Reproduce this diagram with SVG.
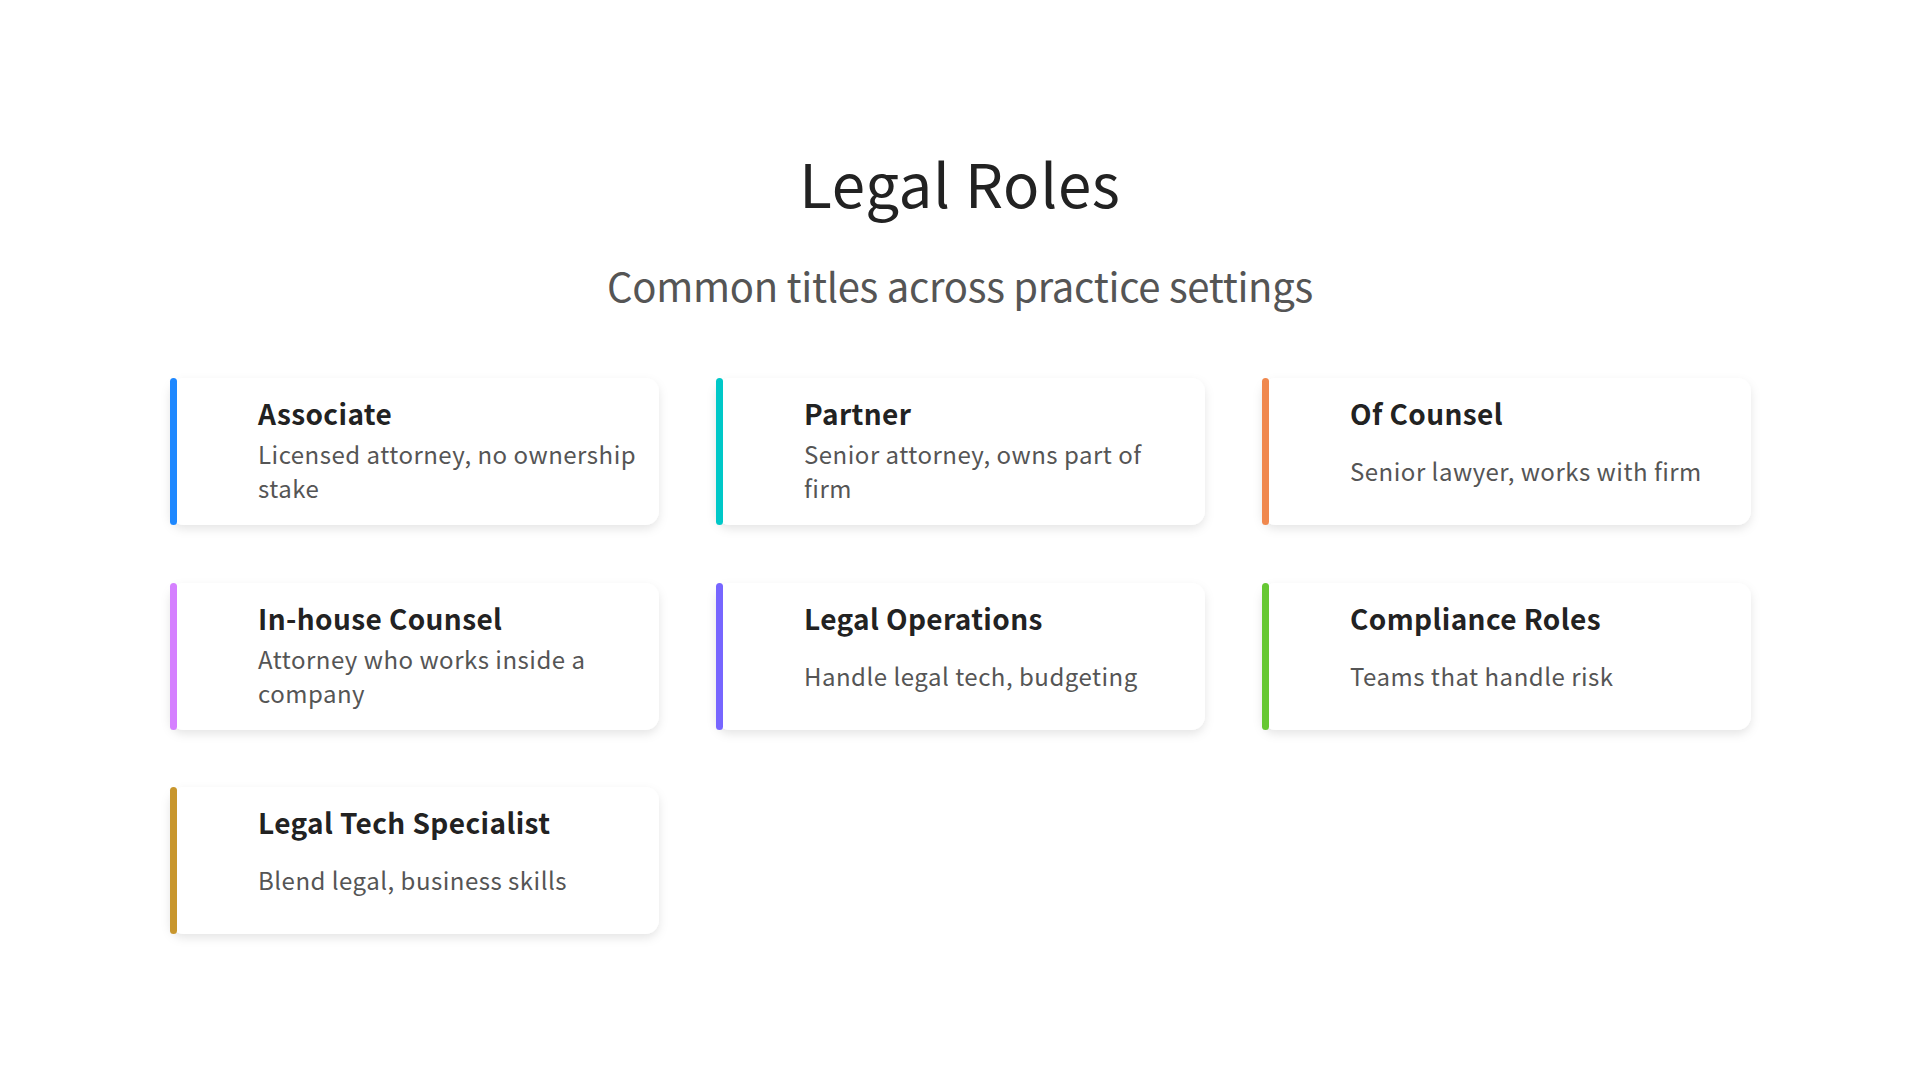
<svg xmlns="http://www.w3.org/2000/svg" width="1920" height="1080" viewBox="0 0 1920 1080">
<defs>
<filter id="sh" x="-10%" y="-20%" width="120%" height="150%">
<feDropShadow dx="0" dy="4" stdDeviation="5" flood-color="#000" flood-opacity="0.10"/>
</filter>
</defs>
<style>
.card{fill:#fff;filter:url(#sh)}
.t{font-family:"Noto Sans CJK SC","Noto Sans",sans-serif;font-weight:700;font-size:28px;fill:#222;letter-spacing:0.4px}
.d{font-family:"Noto Sans CJK SC","Noto Sans",sans-serif;font-size:24px;fill:#555;letter-spacing:0.5px}
.h1{font-family:"Noto Sans CJK SC","Noto Sans",sans-serif;font-size:60px;fill:#222;letter-spacing:0.7px}
.h2{font-family:"Noto Sans CJK SC","Noto Sans",sans-serif;font-size:40px;fill:#555;letter-spacing:-0.3px}
</style>
<rect width="1920" height="1080" fill="#fff"/>
<text class="h1" x="960" y="208" text-anchor="middle">Legal Roles</text>
<text class="h2" x="960" y="302" text-anchor="middle">Common titles across practice settings</text>
<g id="associate">
<rect class="card" x="170" y="378" width="489" height="147" rx="14"/>
<rect x="170" y="378" width="7" height="147" rx="3.5" fill="#1e88ff"/>
<text class="t" x="258" y="425">Associate</text>
<text class="d" x="258" y="464">Licensed attorney, no ownership</text>
<text class="d" x="258" y="498">stake</text>
</g>
<g id="partner">
<rect class="card" x="716" y="378" width="489" height="147" rx="14"/>
<rect x="716" y="378" width="7" height="147" rx="3.5" fill="#00c8c8"/>
<text class="t" x="804" y="425">Partner</text>
<text class="d" x="804" y="464">Senior attorney, owns part of</text>
<text class="d" x="804" y="498">firm</text>
</g>
<g id="of-counsel">
<rect class="card" x="1262" y="378" width="489" height="147" rx="14"/>
<rect x="1262" y="378" width="7" height="147" rx="3.5" fill="#f0884e"/>
<text class="t" x="1350" y="425">Of Counsel</text>
<text class="d" x="1350" y="481">Senior lawyer, works with firm</text>
</g>
<g id="in-house-counsel">
<rect class="card" x="170" y="583" width="489" height="147" rx="14"/>
<rect x="170" y="583" width="7" height="147" rx="3.5" fill="#d580ff"/>
<text class="t" x="258" y="630">In-house Counsel</text>
<text class="d" x="258" y="669">Attorney who works inside a</text>
<text class="d" x="258" y="703">company</text>
</g>
<g id="legal-operations">
<rect class="card" x="716" y="583" width="489" height="147" rx="14"/>
<rect x="716" y="583" width="7" height="147" rx="3.5" fill="#7766ff"/>
<text class="t" x="804" y="630">Legal Operations</text>
<text class="d" x="804" y="686">Handle legal tech, budgeting</text>
</g>
<g id="compliance-roles">
<rect class="card" x="1262" y="583" width="489" height="147" rx="14"/>
<rect x="1262" y="583" width="7" height="147" rx="3.5" fill="#66c833"/>
<text class="t" x="1350" y="630">Compliance Roles</text>
<text class="d" x="1350" y="686">Teams that handle risk</text>
</g>
<g id="legal-tech-specialist">
<rect class="card" x="170" y="787" width="489" height="147" rx="14"/>
<rect x="170" y="787" width="7" height="147" rx="3.5" fill="#c8962d"/>
<text class="t" x="258" y="834">Legal Tech Specialist</text>
<text class="d" x="258" y="890">Blend legal, business skills</text>
</g>
<g id="connectors"></g>
</svg>
